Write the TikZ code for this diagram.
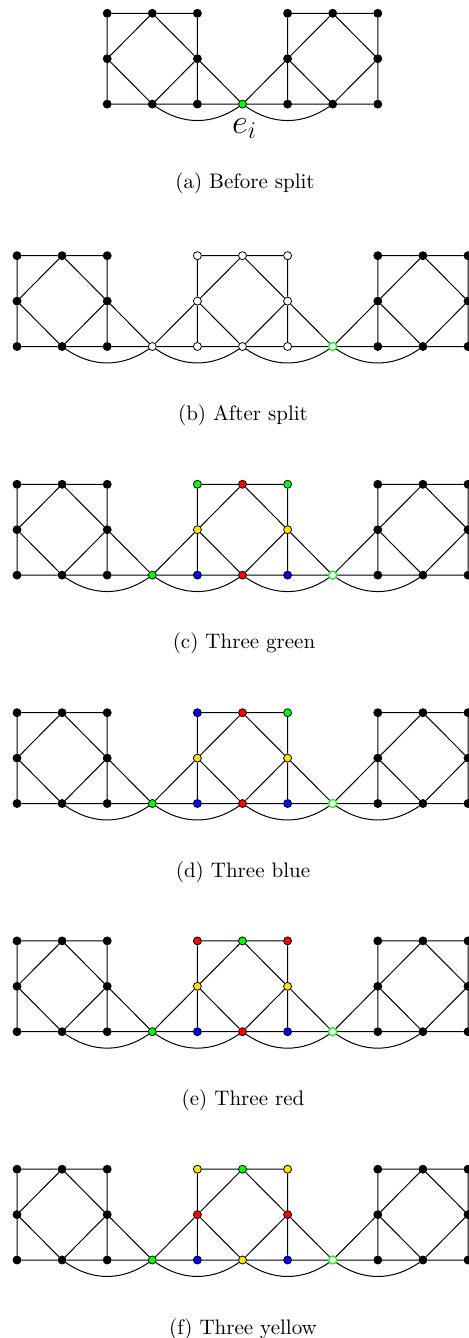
\documentclass[tikz,border=0pt]{standalone}
\usepackage{fontspec}
\definecolor{myyellow}{RGB}{255,228,0}
\definecolor{mygreen}{RGB}{0,255,0}
\tikzset{
  v/.style={circle, draw=black, line width=0.4pt, inner sep=0pt, minimum size=4pt},
  bk/.style={fill=black},
  wh/.style={fill=white},
  gn/.style={fill=mygreen},
  rd/.style={fill=red},
  bl/.style={fill=blue},
  yl/.style={fill=myyellow},
  wg/.style={fill=white, draw=mygreen, line width=0.6pt},
  edge/.style={draw=black, line width=0.5pt},
  arcline/.style={draw=black, line width=0.5pt, bend right=35},
  captext/.style={anchor=base, inner sep=0pt, font=\fontsize{10.5}{12}\selectfont\addfontfeatures{LetterSpace=6}}
}
\def\dx{45.1}
\def\dy{45.4}
% #1 name prefix, #2..#9 styles of T1,T2,T3,M1,M3,B1,B2,B3 ; x of first column in \gx
\newcommand\gadget[9]{%
  \node[v,#2] (#1T1) at (\gx,0) {};
  \node[v,#3] (#1T2) at (\gx+\dx,0) {};
  \node[v,#4] (#1T3) at (\gx+2*\dx,0) {};
  \node[v,#5] (#1M1) at (\gx,\dy) {};
  \node[v,#6] (#1M3) at (\gx+2*\dx,\dy) {};
  \node[v,#7] (#1B1) at (\gx,2*\dy) {};
  \node[v,#8] (#1B2) at (\gx+\dx,2*\dy) {};
  \node[v,#9] (#1B3) at (\gx+2*\dx,2*\dy) {};
  \draw[edge] (#1T1)--(#1T2)--(#1T3) (#1T1)--(#1M1)--(#1B1)
    (#1T3)--(#1M3)--(#1B3) (#1B1)--(#1B2)--(#1B3)
    (#1M1)--(#1T2)--(#1M3)--(#1B2)--(#1M1);
}
% frame of a split panel around middle gadget #1m: #1 prefix, #2 style of S
\newcommand\splitframe[2]{%
  \def\gx{17}\gadget{#1L}{bk}{bk}{bk}{bk}{bk}{bk}{bk}{bk}
  \node[v,#2] (#1S) at (17+3*\dx,2*\dy) {};
  \node[v,wg] (#1E) at (17+7*\dx,2*\dy) {};
  \def\gx{17+8*\dx}\gadget{#1R}{bk}{bk}{bk}{bk}{bk}{bk}{bk}{bk}
  \draw[edge] (#1LM3)--(#1S)--(#1LB3) (#1mM1)--(#1S)--(#1mB1)
    (#1mM3)--(#1E)--(#1mB3) (#1RM1)--(#1E)--(#1RB1);
  \draw[arcline] (#1LB2) to (#1S);
  \draw[arcline] (#1S) to (#1mB2);
  \draw[arcline] (#1mB2) to (#1E);
  \draw[arcline] (#1E) to (#1RB2);
}
\begin{document}
\begin{tikzpicture}[x=0.5pt,y=-0.5pt]
\clip (0,0) rectangle (469,1338);
% (a)
\begin{scope}[shift={(0,13.3)}]
  \def\gx{17+2*\dx}\gadget{aL}{bk}{bk}{bk}{bk}{bk}{bk}{bk}{bk}
  \node[v,gn] (aS) at (17+5*\dx,2*\dy) {};
  \def\gx{17+6*\dx}\gadget{aR}{bk}{bk}{bk}{bk}{bk}{bk}{bk}{bk}
  \draw[edge] (aLM3)--(aS)--(aLB3) (aRM1)--(aS)--(aRB1);
  \draw[arcline] (aLB2) to (aS);
  \draw[arcline] (aS) to (aRB2);
\end{scope}
\node[anchor=base, inner sep=0pt] (ei) at (244.5,133.5) {\LARGE $e_i$};
\node[captext] (capa) at (245,188) {(a) Before split};
% (b)
\begin{scope}[shift={(0,255.7)}]
  \def\gx{17+4*\dx}\gadget{bm}{wh}{wh}{wh}{wh}{wh}{wh}{wh}{wh}
  \splitframe{b}{wh}
\end{scope}
\node[captext] (capb) at (243,420) {(b) After split};
% (c)
\begin{scope}[shift={(0,484.3)}]
  \def\gx{17+4*\dx}\gadget{cm}{gn}{rd}{gn}{yl}{yl}{bl}{rd}{bl}
  \splitframe{c}{gn}
\end{scope}
\node[captext] (capc) at (244,648.5) {(c) Three green};
% (d)
\begin{scope}[shift={(0,712.7)}]
  \def\gx{17+4*\dx}\gadget{dm}{bl}{rd}{gn}{yl}{yl}{bl}{rd}{bl}
  \splitframe{d}{gn}
\end{scope}
\node[captext] (capd) at (243,877) {(d) Three blue};
% (e)
\begin{scope}[shift={(0,940.9)}]
  \def\gx{17+4*\dx}\gadget{em}{rd}{gn}{rd}{yl}{yl}{bl}{rd}{bl}
  \splitframe{e}{gn}
\end{scope}
\node[captext] (cape) at (243,1105.5) {(e) Three red};
% (f)
\begin{scope}[shift={(0,1169.2)}]
  \def\gx{17+4*\dx}\gadget{fm}{yl}{gn}{yl}{rd}{rd}{bl}{yl}{bl}
  \splitframe{f}{gn}
\end{scope}
\node[captext] (capf) at (243,1334) {(f) Three yellow};
\end{tikzpicture}
\end{document}
